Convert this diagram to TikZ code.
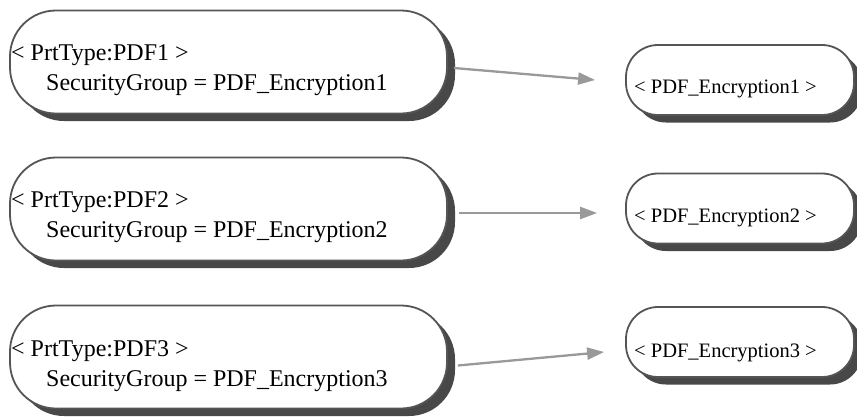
\documentclass[tikz,border=0pt]{standalone}
\usepackage{fontspec}
\setmainfont{Liberation Serif}
\usetikzlibrary{shadows,arrows.meta}
\definecolor{edgegray}{HTML}{555555}
\definecolor{shadowgray}{HTML}{484848}
\definecolor{arrowgray}{HTML}{999999}
\begin{document}
\begin{tikzpicture}[x=1pt,y=-1pt,
  boxbase/.style={draw=edgegray, line width=1.8pt, fill=white, inner sep=0pt,
    drop shadow={shadow xshift=8pt, shadow yshift=-7.5pt, fill=shadowgray, opacity=1}},
  lbox/.style={boxbase, rounded corners=46pt, minimum width=437pt, minimum height=103pt},
  rbox/.style={boxbase, rounded corners=32pt, minimum width=228pt, minimum height=70pt},
  ltext/.style={anchor=base west, inner sep=0pt, font=\fontsize{24}{28}\selectfont},
  rtext/.style={anchor=base west, inner sep=0pt, font=\fontsize{20.5}{24}\selectfont},
  arr/.style={draw=arrowgray, line width=2.3pt, -{Triangle[length=17pt,width=12pt]}}]
\useasboundingbox (0,0) rectangle (857,416);
\fill[white] (0,0) rectangle (857,416);

% left boxes
\node[lbox] (L1) at (228.5,62) {};
\node[lbox] (L2) at (228.5,209) {};
\node[lbox] (L3) at (228.5,357) {};
% right boxes
\node[rbox] (R1) at (740,80) {};
\node[rbox] (R2) at (740,208.5) {};
\node[rbox] (R3) at (740,342) {};

% left texts
\node[ltext] (L1a) at (11,60) {< PrtType:PDF1 >};
\node[ltext] (L1b) at (46,90) {SecurityGroup = PDF\_Encryption1};
\node[ltext] (L2a) at (11,207) {< PrtType:PDF2 >};
\node[ltext] (L2b) at (46,237) {SecurityGroup = PDF\_Encryption2};
\node[ltext] (L3a) at (11,356) {< PrtType:PDF3 >};
\node[ltext] (L3b) at (46,386) {SecurityGroup = PDF\_Encryption3};
% right texts
\node[rtext] (R1t) at (634,93) {< PDF\_Encryption1 >};
\node[rtext] (R2t) at (634,222) {< PDF\_Encryption2 >};
\node[rtext] (R3t) at (634,357) {< PDF\_Encryption3 >};

% arrows
\draw[arr] ([shift={(6pt,-6pt)}]L1.east) -- ([shift={(-30pt,0pt)}]R1.west);
\draw[arr] ([shift={(11pt,-4pt)}]L2.east) -- ([shift={(-28pt,-4.5pt)}]R2.west);
\draw[arr] ([shift={(10pt,-8.5pt)}]L3.east) -- ([shift={(-21pt,-10pt)}]R3.west);
\end{tikzpicture}
\end{document}
